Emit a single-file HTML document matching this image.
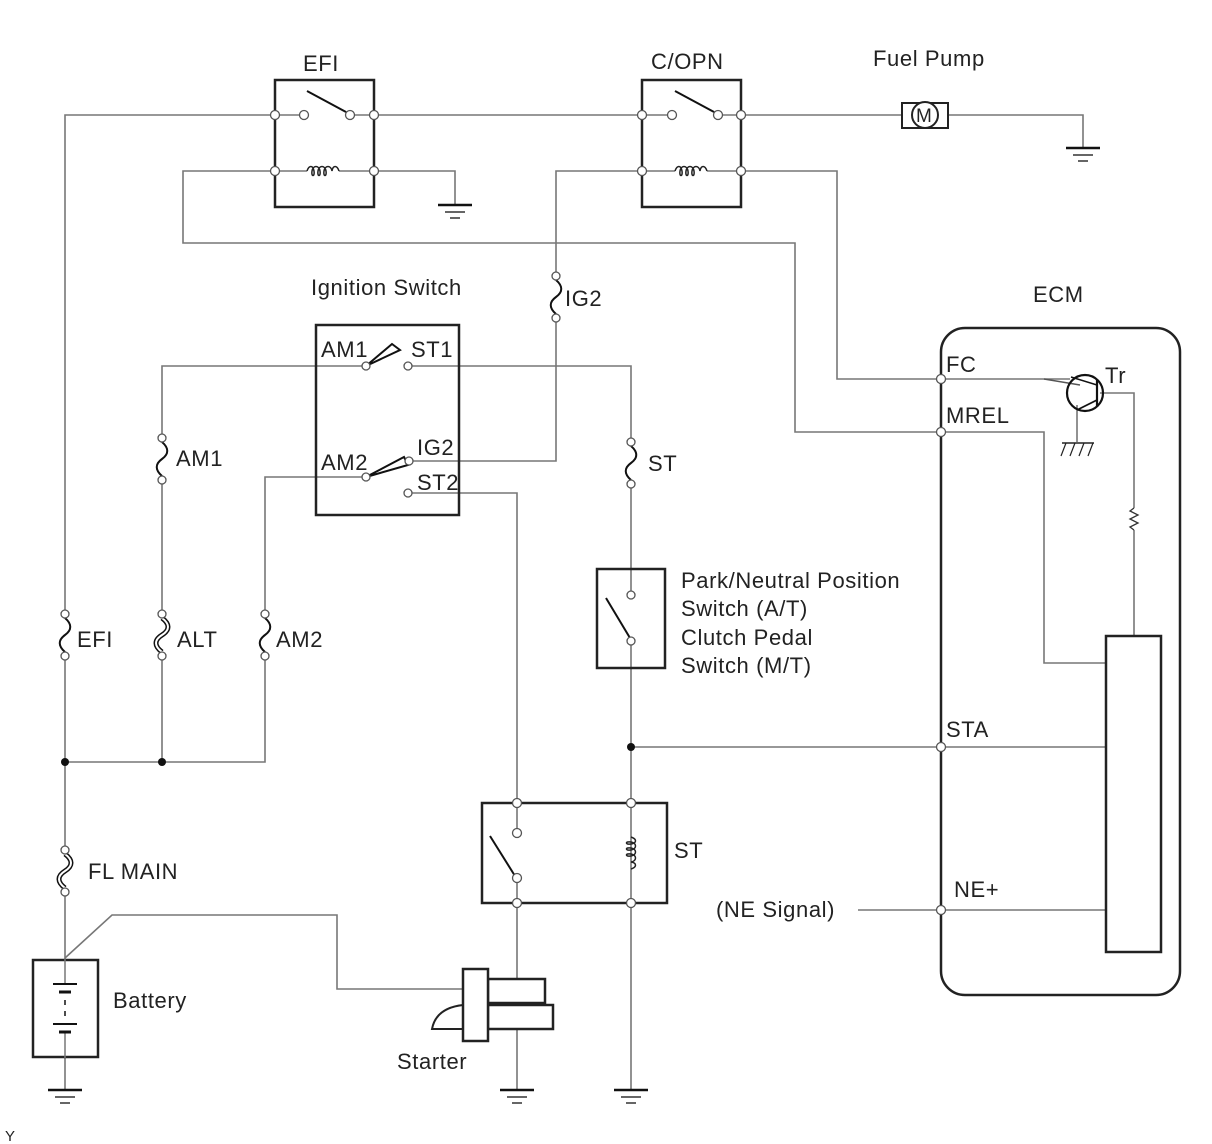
<!DOCTYPE html>
<html><head><meta charset="utf-8"><style>
html,body{margin:0;padding:0;background:#fff;}
svg{display:block;}
text{font-family:"Liberation Sans",sans-serif;font-size:22px;letter-spacing:0.6px;fill:#222;}
</style></head><body>
<svg width="1212" height="1144" viewBox="0 0 1212 1144" xmlns="http://www.w3.org/2000/svg">
<defs>
<g id="fuse"><path d="M0,4 C7,10 7,16 0,21 C-7,26 -7,32 0,38" fill="none" stroke="#111" stroke-width="2"/><circle cx="0" cy="0" r="4" fill="#fff" stroke="#555" stroke-width="1.3"/><circle cx="0" cy="42" r="4" fill="#fff" stroke="#555" stroke-width="1.3"/></g>
<g id="ffuse"><path d="M0,4 C8,10 8,16 0,21 C-8,26 -8,32 0,38" fill="none" stroke="#111" stroke-width="5"/><path d="M0,4 C8,10 8,16 0,21 C-8,26 -8,32 0,38" fill="none" stroke="#fff" stroke-width="2"/><circle cx="0" cy="0" r="4" fill="#fff" stroke="#555" stroke-width="1.3"/><circle cx="0" cy="42" r="4" fill="#fff" stroke="#555" stroke-width="1.3"/></g>
<g id="gnd"><line x1="-17" y1="0" x2="17" y2="0" stroke="#111" stroke-width="2.5"/><line x1="-10" y1="7" x2="10" y2="7" stroke="#333" stroke-width="1.5"/><line x1="-5" y1="13" x2="5" y2="13" stroke="#333" stroke-width="1.5"/></g>
<g id="coilh"><path d="M-16,0 C-14,-6 -10,-6 -9,0 C-8,6 -12,6 -11,0 C-10,-6 -4,-6 -3,0 C-2,6 -6,6 -5,0 C-4,-6 2,-6 3,0 C4,6 0,6 1,0 C2,-6 8,-6 9,0 C10,-6 14,-6 16,0" fill="none" stroke="#222" stroke-width="1.5"/></g>
</defs>

<g fill="none" stroke="#777" stroke-width="1.6">
<polyline points="275,115 65,115 65,612"/>
<line x1="65" y1="656" x2="65" y2="848"/>
<line x1="65" y1="892" x2="65" y2="1090"/>
<line x1="374" y1="115" x2="642" y2="115"/>
<line x1="741" y1="115" x2="905" y2="115"/>
<polyline points="948,115 1083,115 1083,148"/>
<polyline points="374,171 455,171 455,205"/>
<polyline points="642,171 556,171 556,275"/>
<polyline points="556,319 556,461 413,461"/>
<polyline points="741,171 837,171 837,379 941,379 1070,379"/>
<polyline points="275,171 183,171 183,243 795,243 795,432 941,432 1044,432 1044,663 1106,663"/>
<polyline points="366,366 162,366 162,437"/>
<line x1="162" y1="481" x2="162" y2="612"/>
<line x1="162" y1="656" x2="162" y2="762"/>
<polyline points="408,366 631,366 631,441"/>
<line x1="631" y1="485" x2="631" y2="595"/>
<line x1="631" y1="641" x2="631" y2="1090"/>
<polyline points="366,477 265,477 265,612"/>
<polyline points="265,656 265,762 65,762"/>
<polyline points="408,493 517,493 517,803"/>
<line x1="517" y1="803" x2="517" y2="833"/>
<line x1="517" y1="878" x2="517" y2="1090"/>
<line x1="631" y1="747" x2="1106" y2="747"/>
<line x1="858" y1="910" x2="1106" y2="910"/>
<polyline points="65,958 112,915 337,915 337,989 463,989"/>
<polyline points="1100,393 1134,393 1134,508"/>
<line x1="1134" y1="530" x2="1134" y2="636"/>
<line x1="1077" y1="405" x2="1077" y2="442"/>
</g>

<rect x="275" y="80" width="99" height="127" fill="none" stroke="#222" stroke-width="2.5"/>
<line x1="275" y1="115" x2="300" y2="115" stroke="#777" stroke-width="1.5"/>
<line x1="354" y1="115" x2="374" y2="115" stroke="#777" stroke-width="1.5"/>
<line x1="275" y1="171" x2="307" y2="171" stroke="#777" stroke-width="1.5"/>
<line x1="339" y1="171" x2="374" y2="171" stroke="#777" stroke-width="1.5"/>
<line x1="307" y1="91" x2="346" y2="112" stroke="#111" stroke-width="2"/>
<use href="#coilh" x="323" y="171"/>
<rect x="642" y="80" width="99" height="127" fill="none" stroke="#222" stroke-width="2.5"/>
<line x1="642" y1="115" x2="668" y2="115" stroke="#777" stroke-width="1.5"/>
<line x1="722" y1="115" x2="741" y2="115" stroke="#777" stroke-width="1.5"/>
<line x1="642" y1="171" x2="675" y2="171" stroke="#777" stroke-width="1.5"/>
<line x1="707" y1="171" x2="741" y2="171" stroke="#777" stroke-width="1.5"/>
<line x1="675" y1="91" x2="714" y2="112" stroke="#111" stroke-width="2"/>
<use href="#coilh" x="691" y="171"/>
<g fill="#fff" stroke="#555" stroke-width="1.3">
<circle cx="275" cy="115" r="4.5"/><circle cx="304" cy="115" r="4.5"/><circle cx="350" cy="115" r="4.5"/><circle cx="374" cy="115" r="4.5"/>
<circle cx="275" cy="171" r="4.5"/><circle cx="374" cy="171" r="4.5"/>
<circle cx="642" cy="115" r="4.5"/><circle cx="672" cy="115" r="4.5"/><circle cx="718" cy="115" r="4.5"/><circle cx="741" cy="115" r="4.5"/>
<circle cx="642" cy="171" r="4.5"/><circle cx="741" cy="171" r="4.5"/>
</g>
<rect x="902" y="103" width="46" height="25" fill="#fff" stroke="#222" stroke-width="2"/>
<circle cx="925" cy="115" r="13" fill="#fff" stroke="#222" stroke-width="2"/>
<text x="916" y="122" style="font-size:19px;letter-spacing:0">M</text>
<use href="#gnd" x="1083" y="148"/>
<use href="#gnd" x="455" y="205"/>

<use href="#fuse" x="556" y="276"/>
<use href="#fuse" x="162" y="438"/>
<use href="#fuse" x="631" y="442"/>
<use href="#fuse" x="65" y="614"/>
<use href="#ffuse" x="162" y="614"/>
<use href="#fuse" x="265" y="614"/>
<use href="#ffuse" x="65" y="850"/>

<rect x="316" y="325" width="143" height="190" fill="none" stroke="#222" stroke-width="2.5"/>
<path d="M366,366 L392,344 L400,350 Z" fill="none" stroke="#111" stroke-width="2"/>
<path d="M366,477 L404,457 L408,465 Z" fill="none" stroke="#111" stroke-width="2"/>
<g fill="#fff" stroke="#555" stroke-width="1.3">
<circle cx="366" cy="366" r="4"/><circle cx="408" cy="366" r="4"/>
<circle cx="366" cy="477" r="4"/><circle cx="409" cy="461" r="4"/><circle cx="408" cy="493" r="4"/>
</g>

<rect x="597" y="569" width="68" height="99" fill="none" stroke="#222" stroke-width="2.5"/>
<line x1="606" y1="598" x2="630" y2="638" stroke="#111" stroke-width="2"/>
<circle cx="631" cy="595" r="4" fill="#fff" stroke="#555" stroke-width="1.3"/>
<circle cx="631" cy="641" r="4" fill="#fff" stroke="#555" stroke-width="1.3"/>

<circle cx="65" cy="762" r="4" fill="#111"/><circle cx="162" cy="762" r="4" fill="#111"/><circle cx="631" cy="747" r="4" fill="#111"/>

<rect x="482" y="803" width="185" height="100" fill="none" stroke="#222" stroke-width="2.5"/>
<line x1="490" y1="836" x2="515" y2="876" stroke="#111" stroke-width="2"/>
<g transform="translate(631,853) rotate(90)"><use href="#coilh"/></g>
<g fill="#fff" stroke="#555" stroke-width="1.3">
<circle cx="517" cy="803" r="4.5"/><circle cx="631" cy="803" r="4.5"/><circle cx="517" cy="833" r="4.5"/><circle cx="517" cy="878" r="4.5"/>
<circle cx="517" cy="903" r="4.5"/><circle cx="631" cy="903" r="4.5"/>
</g>

<rect x="33" y="960" width="65" height="97" fill="#fff" stroke="#222" stroke-width="2.5"/>
<line x1="65" y1="958" x2="65" y2="984" stroke="#777" stroke-width="1.5"/>
<line x1="65" y1="1032" x2="65" y2="1058" stroke="#777" stroke-width="1.5"/>
<line x1="53" y1="984" x2="77" y2="984" stroke="#111" stroke-width="2"/><line x1="59" y1="992" x2="71" y2="992" stroke="#111" stroke-width="3"/>
<line x1="65" y1="1000" x2="65" y2="1005" stroke="#111" stroke-width="1.5"/><line x1="65" y1="1011" x2="65" y2="1016" stroke="#111" stroke-width="1.5"/>
<line x1="53" y1="1024" x2="77" y2="1024" stroke="#111" stroke-width="2"/><line x1="59" y1="1032" x2="71" y2="1032" stroke="#111" stroke-width="3"/>
<use href="#gnd" x="65" y="1090"/>
<use href="#gnd" x="517" y="1090"/>
<use href="#gnd" x="631" y="1090"/>

<rect x="488" y="979" width="57" height="24" fill="#fff" stroke="#222" stroke-width="2.5"/>
<rect x="488" y="1005" width="65" height="24" fill="#fff" stroke="#222" stroke-width="2.5"/>
<rect x="463" y="969" width="25" height="72" fill="#fff" stroke="#222" stroke-width="2.5"/>
<path d="M463,1005 Q436,1008 432,1029 L463,1029" fill="none" stroke="#222" stroke-width="2"/>

<rect x="941" y="328" width="239" height="667" rx="24" fill="none" stroke="#222" stroke-width="2.5"/>
<rect x="1106" y="636" width="55" height="316" fill="none" stroke="#222" stroke-width="2.5"/>
<line x1="1044" y1="379" x2="1080" y2="385" stroke="#555" stroke-width="1.5"/>
<circle cx="1085" cy="393" r="18" fill="none" stroke="#111" stroke-width="2.2"/>
<line x1="1097" y1="380" x2="1097" y2="406" stroke="#111" stroke-width="2.2"/>
<line x1="1071" y1="377" x2="1097" y2="385" stroke="#111" stroke-width="1.5"/>
<line x1="1097" y1="400" x2="1077" y2="410" stroke="#111" stroke-width="1.8"/>
<line x1="1062" y1="443" x2="1094" y2="443" stroke="#222" stroke-width="1.5"/>
<g stroke="#222" stroke-width="1.2"><line x1="1066" y1="443" x2="1061" y2="456"/><line x1="1075" y1="443" x2="1070" y2="456"/><line x1="1084" y1="443" x2="1079" y2="456"/><line x1="1093" y1="443" x2="1088" y2="456"/></g>
<path d="M1134,508 L1130,511 L1138,515 L1130,519 L1138,523 L1130,527 L1134,530" fill="none" stroke="#333" stroke-width="1.3"/>
<g fill="#fff" stroke="#555" stroke-width="1.3">
<circle cx="941" cy="379" r="4.5"/><circle cx="941" cy="432" r="4.5"/><circle cx="941" cy="747" r="4.5"/><circle cx="941" cy="910" r="4.5"/>
</g>

<text x="303" y="71">EFI</text>
<text x="651" y="69">C/OPN</text>
<text x="873" y="66">Fuel Pump</text>
<text x="311" y="295">Ignition Switch</text>
<text x="1033" y="302">ECM</text>
<text x="565" y="306">IG2</text>
<text x="321" y="357">AM1</text>
<text x="411" y="357">ST1</text>
<text x="417" y="455">IG2</text>
<text x="321" y="470">AM2</text>
<text x="417" y="490">ST2</text>
<text x="176" y="466">AM1</text>
<text x="648" y="471">ST</text>
<text x="77" y="647">EFI</text>
<text x="177" y="647">ALT</text>
<text x="276" y="647">AM2</text>
<text x="681" y="588">Park/Neutral Position</text>
<text x="681" y="616">Switch (A/T)</text>
<text x="681" y="645">Clutch Pedal</text>
<text x="681" y="673">Switch (M/T)</text>
<text x="674" y="858">ST</text>
<text x="88" y="879">FL MAIN</text>
<text x="113" y="1008">Battery</text>
<text x="397" y="1069">Starter</text>
<text x="716" y="917">(NE Signal)</text>
<text x="946" y="372">FC</text>
<text x="946" y="423">MREL</text>
<text x="946" y="737">STA</text>
<text x="954" y="897">NE+</text>
<text x="1105" y="383">Tr</text>
<text x="5" y="1141" style="font-size:15px;letter-spacing:0">Y</text>
</svg>
</body></html>
